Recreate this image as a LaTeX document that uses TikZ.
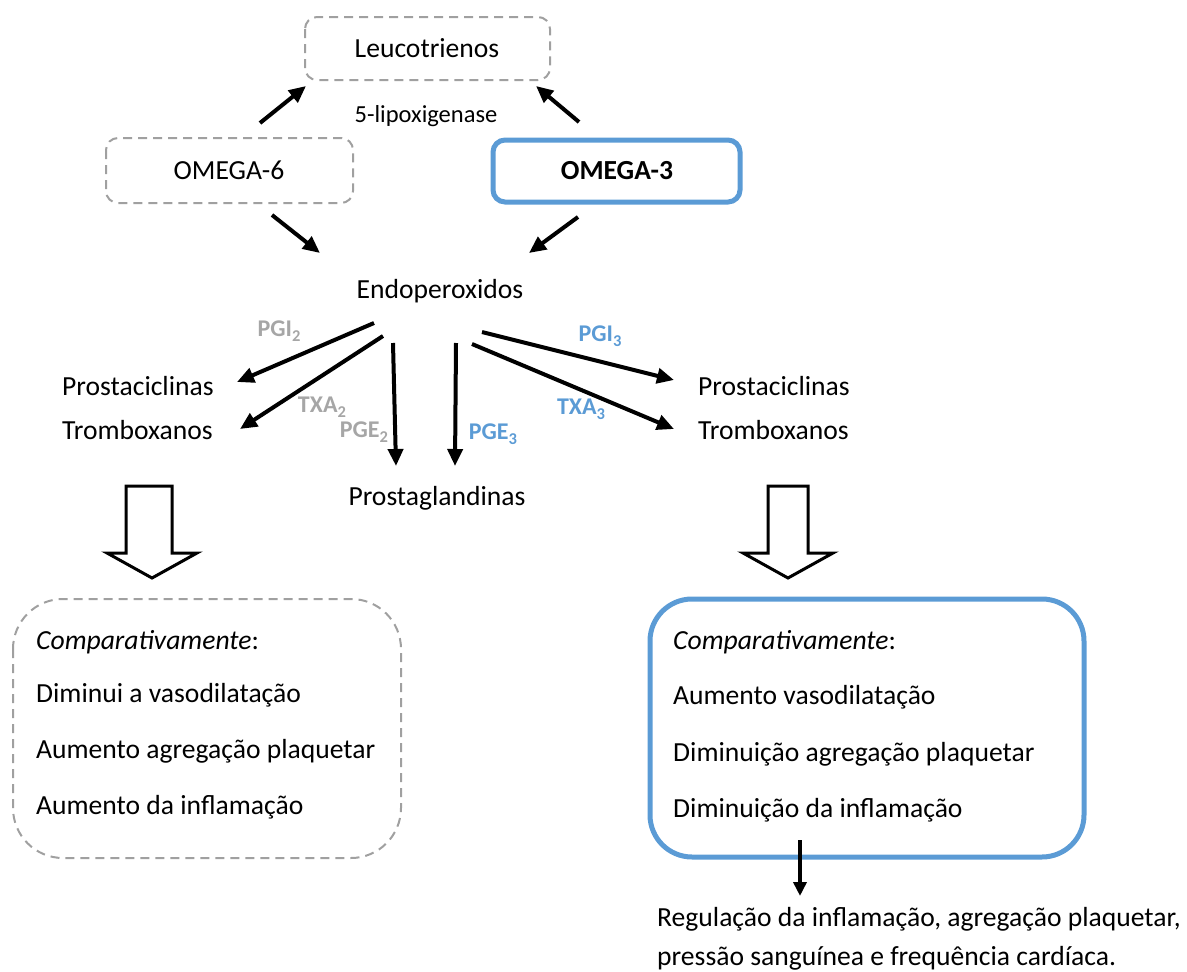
\documentclass[tikz,border=0pt]{standalone}
\usepackage{fontspec}
\setmainfont{Carlito}
\usetikzlibrary{arrows.meta}
\definecolor{dgray}{HTML}{A0A0A0}
\definecolor{lblue}{HTML}{5B9BD5}
\definecolor{lgray}{HTML}{A6A6A6}
\newcommand\sbx[1]{\raisebox{-0.22em}{\fontsize{16.5}{16.5}\selectfont #1}}
\begin{document}
\begin{tikzpicture}[x=1pt,y=-1pt,
  txt/.style={font=\fontsize{27.6}{32}\selectfont, inner sep=0pt, text=black},
  lab/.style={font=\fontsize{24}{28}\selectfont\bfseries, inner sep=0pt},
  dbox/.style={draw=dgray, line width=2pt, dash pattern=on 9pt off 6pt},
  bbox/.style={draw=lblue, line width=5pt},
  arr/.style={line width=4pt, -{Triangle[length=17pt,width=15pt]}, shorten >=0pt},
  hollow/.style={draw=black, line width=3pt, fill=white, line join=miter}
]
\useasboundingbox (0,0) rectangle (1187,972);

% boxes
\draw[dbox, rounded corners=12pt] (305,17) rectangle (550,80);
\draw[dbox, rounded corners=12pt] (106,138) rectangle (353,203);
\draw[bbox, rounded corners=12pt] (493,140) rectangle (740,202);
\draw[dbox, rounded corners=50pt] (13,599) rectangle (401,858);
\draw[bbox, rounded corners=42pt] (650,599) rectangle (1084,857);

% texts
\node[txt] (leuco) at (427,48) {Leucotrienos};
\node[txt, font=\fontsize{24.5}{29}\selectfont] (lipox) at (426,116) {5-lipoxigenase};
\node[txt] (o6) at (229,170) {OMEGA-6};
\node[txt, font=\fontsize{27.6}{32}\selectfont\bfseries] (o3) at (617,171) {OMEGA-3};
\node[txt] (endo) at (440,291) {Endoperoxidos};
\node[txt, anchor=west] (pcL) at (62,386) {Prostaciclinas};
\node[txt, anchor=west] (tbL) at (62,430) {Tromboxanos};
\node[txt, anchor=west] (pcR) at (698,386) {Prostaciclinas};
\node[txt, anchor=west] (tbR) at (698,430) {Tromboxanos};
\node[txt] (pg) at (437,498) {Prostaglandinas};

\node[lab, text=lgray] (pgi2) at (279,331) {PGI\sbx{2}};
\node[lab, text=lgray] (txa2) at (322,407) {TXA\sbx{2}};
\node[lab, text=lgray] (pge2) at (364,432) {PGE\sbx{2}};
\node[lab, text=lblue] (pge3) at (493,434) {PGE\sbx{3}};
\node[lab, text=lblue] (pgi3) at (600,336) {PGI\sbx{3}};
\node[lab, text=lblue] (txa3) at (581,409) {TXA\sbx{3}};

% left list
\node[txt, anchor=west] (cL) at (36,642) {\textit{Comparativamente}:};
\node[txt, anchor=west] (l1) at (36,695) {Diminui a vasodilatação};
\node[txt, anchor=west] (l2) at (36,751) {Aumento agregação plaquetar};
\node[txt, anchor=west] (l3) at (36,807) {Aumento da inflamação};
% right list
\node[txt, anchor=west] (cR) at (673,642) {\textit{Comparativamente}:};
\node[txt, anchor=west] (r1) at (673,697) {Aumento vasodilatação};
\node[txt, anchor=west] (r2) at (673,754) {Diminuição agregação plaquetar};
\node[txt, anchor=west] (r3) at (673,810) {Diminuição da inflamação};
\node[txt, anchor=west] (reg1) at (657,919) {Regulação da inflamação, agregação plaquetar,};
\node[txt, anchor=west] (reg2) at (657,958) {pressão sanguínea e frequência cardíaca.};

% arrow coordinates
\coordinate (a1s) at (260,123); \coordinate (a1e) at (306,86);
\coordinate (a2s) at (579,122); \coordinate (a2e) at (536,86);
\coordinate (a3s) at (272,215); \coordinate (a3e) at (320,253);
\coordinate (a4s) at (578,217); \coordinate (a4e) at (529,253);
\coordinate (e1s) at (374,323); \coordinate (e1e) at (237,382);
\coordinate (e2s) at (383,336); \coordinate (e2e) at (240,429);
\coordinate (e3s) at (393,343); \coordinate (e3e) at (396,466);
\coordinate (e4s) at (456,343); \coordinate (e4e) at (455,466);
\coordinate (e5s) at (482,332); \coordinate (e5e) at (674,380);
\coordinate (e6s) at (472,344); \coordinate (e6e) at (674,429);
\coordinate (fs) at (800,840); \coordinate (fe) at (800,896);

\draw[arr] (a1s) -- (a1e);
\draw[arr] (a2s) -- (a2e);
\draw[arr] (a3s) -- (a3e);
\draw[arr] (a4s) -- (a4e);
\draw[arr] (e1s) -- (e1e);
\draw[arr] (e2s) -- (e2e);
\draw[arr] (e3s) -- (e3e);
\draw[arr] (e4s) -- (e4e);
\draw[arr] (e5s) -- (e5e);
\draw[arr] (e6s) -- (e6e);
\draw[line width=3.5pt, -{Triangle[length=14pt,width=13pt]}] (fs) -- (fe);

% hollow arrows
\draw[hollow] (126,486) -- (172,486) -- (172,553) -- (197,553) -- (152,578) -- (107,553) -- (126,553) -- cycle;
\draw[hollow] (768,486) -- (808,486) -- (808,553) -- (833,553) -- (788,578) -- (743,553) -- (768,553) -- cycle;
\end{tikzpicture}
\end{document}
